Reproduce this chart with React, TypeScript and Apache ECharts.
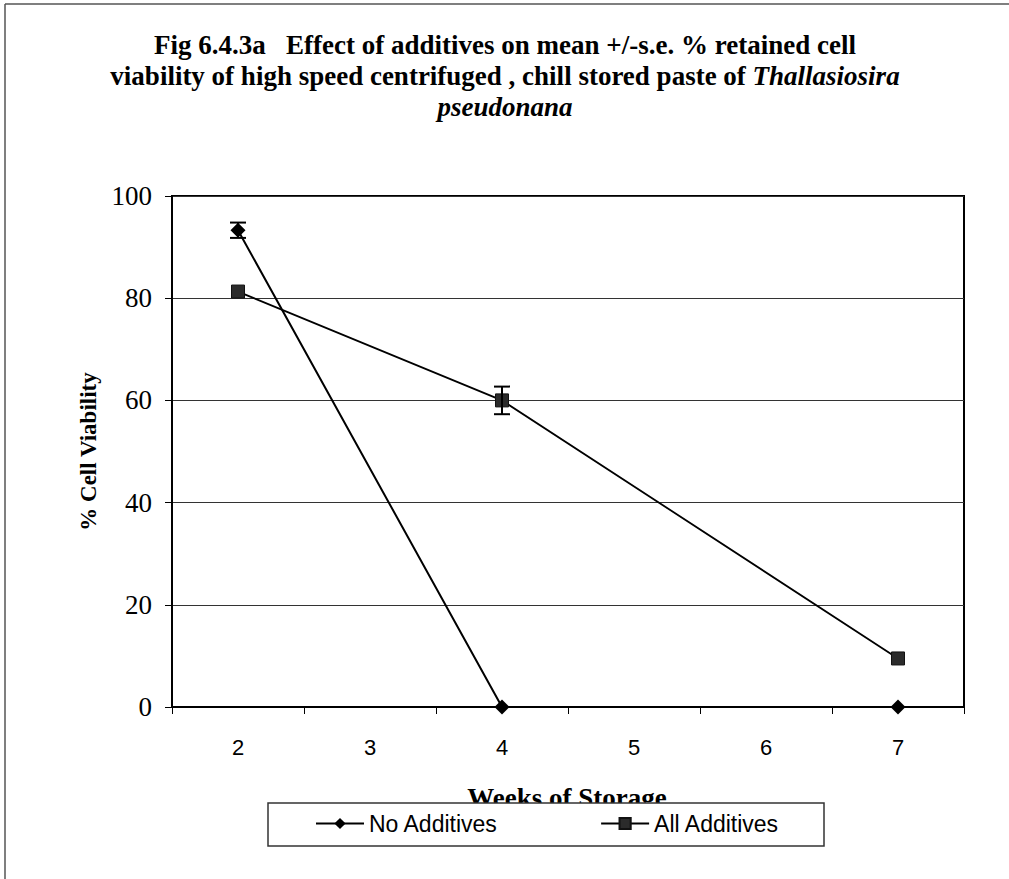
import React, { useEffect, useRef } from "react";
import * as echarts from "echarts";

// Weeks of chill storage (category axis)
const weeks = ["2", "3", "4", "5", "6", "7"];

// Mean % retained cell viability per week ('-' = not sampled)
const noAdditives: (number | string)[] = [93.3, "-", 0, "-", "-", 0];
const allAdditives: (number | string)[] = [81.3, "-", 60.0, "-", "-", 9.5];

// Standard errors of the means
const noAdditivesSE: (number | null)[] = [1.5, null, 0, null, null, 0];
const allAdditivesSE: (number | null)[] = [0, null, 2.7, null, null, 0];

const yTicks = { min: 0, max: 100, interval: 20 };

const titleLines = [
  "Fig 6.4.3a   Effect of additives on mean +/-s.e. % retained cell",
  "viability of high speed centrifuged , chill stored paste of ",
];
const titleItalic = ["Thallasiosira", "pseudonana"];

const SERIF = "'Liberation Serif', 'Times New Roman', serif";
const SANS = "'Liberation Sans', Arial, sans-serif";

function errorData(means: (number | string)[], se: (number | null)[]) {
  const out: number[][] = [];
  means.forEach((m, i) => {
    const e = se[i];
    if (typeof m === "number" && e) out.push([i, m - e, m + e]);
  });
  return out;
}

function renderErrorBar(params: any, api: any) {
  const idx = api.value(0);
  const lo = api.coord([idx, api.value(1)]);
  const hi = api.coord([idx, api.value(2)]);
  const half = 8;
  const style = { stroke: "#000", lineWidth: 2 };
  return {
    type: "group",
    children: [
      { type: "line", shape: { x1: lo[0], y1: lo[1], x2: hi[0], y2: hi[1] }, style },
      { type: "line", shape: { x1: lo[0] - half, y1: lo[1], x2: lo[0] + half, y2: lo[1] }, style },
      { type: "line", shape: { x1: hi[0] - half, y1: hi[1], x2: hi[0] + half, y2: hi[1] }, style },
    ],
  };
}

export default function App() {
  const ref = useRef<HTMLDivElement>(null);

  useEffect(() => {
    if (!ref.current) return;
    const chart = echarts.init(ref.current, undefined, { renderer: "svg" });

    const option: any = {
      animation: false,
      backgroundColor: "#fff",
      grid: {
        left: 172,
        top: 196,
        width: 792,
        height: 511,
        show: true,
        borderColor: "#000",
        borderWidth: 2,
        backgroundColor: "transparent",
      },
      xAxis: {
        type: "category",
        data: weeks,
        boundaryGap: true,
        axisLine: { lineStyle: { color: "#000", width: 2 } },
        axisTick: { show: true, length: 7, lineStyle: { color: "#000", width: 1 } },
        axisLabel: { fontFamily: SANS, fontSize: 22, color: "#000", margin: 29 },
        splitLine: { show: false },
      },
      yAxis: {
        type: "value",
        min: yTicks.min,
        max: yTicks.max,
        interval: yTicks.interval,
        name: "% Cell Viability",
        nameLocation: "middle",
        nameGap: 72,
        nameTextStyle: { fontFamily: SERIF, fontWeight: "bold", fontSize: 23, color: "#000" },
        axisLine: { show: true, lineStyle: { color: "#000", width: 2 } },
        axisTick: { show: true, length: 7, lineStyle: { color: "#000", width: 1 } },
        axisLabel: { fontFamily: SERIF, fontSize: 27, color: "#000", margin: 20 },
        splitLine: { show: true, lineStyle: { color: "#333", width: 1.2 } },
      },
      legend: {
        data: ["No Additives", "All Additives"],
        left: 315,
        top: 812,
        padding: 0,
        itemWidth: 48,
        itemHeight: 14,
        itemGap: 102,
        z: 20,
        textStyle: { fontFamily: SANS, fontSize: 23, color: "#000" },
      },
      graphic: [
        // figure frame (top and left edges)
        { type: "line", z: 1, shape: { x1: 5, y1: 4, x2: 1009, y2: 4 }, style: { stroke: "#555", lineWidth: 1.5 } },
        { type: "line", z: 1, shape: { x1: 5, y1: 4, x2: 5, y2: 879 }, style: { stroke: "#555", lineWidth: 1.5 } },
        // title
        {
          type: "text",
          z: 1,
          x: 505,
          y: 29,
          style: {
            text:
              `{b|${titleLines[0]}}\n{b|${titleLines[1]}}{i|${titleItalic[0]}}\n{i|${titleItalic[1]}}`,
            align: "center",
            verticalAlign: "top",
            rich: {
              b: { fontFamily: SERIF, fontWeight: "bold", fontSize: 27, lineHeight: 31, fill: "#000" },
              i: {
                fontFamily: SERIF,
                fontWeight: "bold",
                fontStyle: "italic",
                fontSize: 27,
                lineHeight: 31,
                fill: "#000",
              },
            },
          },
        },
        // x axis title (partly hidden by the legend box)
        {
          type: "text",
          z: 1,
          x: 567,
          y: 798,
          style: {
            text: "Weeks of Storage",
            fontFamily: SERIF,
            fontWeight: "bold",
            fontSize: 27,
            fill: "#000",
            align: "center",
            verticalAlign: "middle",
          },
        },
        // legend box
        {
          type: "rect",
          z: 10,
          shape: { x: 268, y: 803, width: 556, height: 43 },
          style: { fill: "#fff", stroke: "#333", lineWidth: 1.5 },
        },
      ],
      series: [
        {
          name: "No Additives",
          type: "line",
          data: noAdditives,
          connectNulls: true,
          symbol: "diamond",
          symbolSize: 15,
          itemStyle: { color: "#000" },
          lineStyle: { color: "#000", width: 2 },
          z: 3,
        },
        {
          name: "All Additives",
          type: "line",
          data: allAdditives,
          connectNulls: true,
          symbol: "rect",
          symbolSize: 13,
          itemStyle: { color: "#2b2b2b", borderColor: "#111", borderWidth: 1 },
          lineStyle: { color: "#000", width: 1.8 },
          z: 3,
        },
        {
          name: "No Additives SE",
          type: "custom",
          renderItem: renderErrorBar,
          data: errorData(noAdditives, noAdditivesSE),
          z: 4,
        },
        {
          name: "All Additives SE",
          type: "custom",
          renderItem: renderErrorBar,
          data: errorData(allAdditives, allAdditivesSE),
          z: 4,
        },
      ],
    };

    chart.setOption(option);
    return () => chart.dispose();
  }, []);

  return (
    <div
      ref={ref}
      style={{ position: "absolute", left: 0, top: 0, width: 1009, height: 879, background: "#fff" }}
    />
  );
}
